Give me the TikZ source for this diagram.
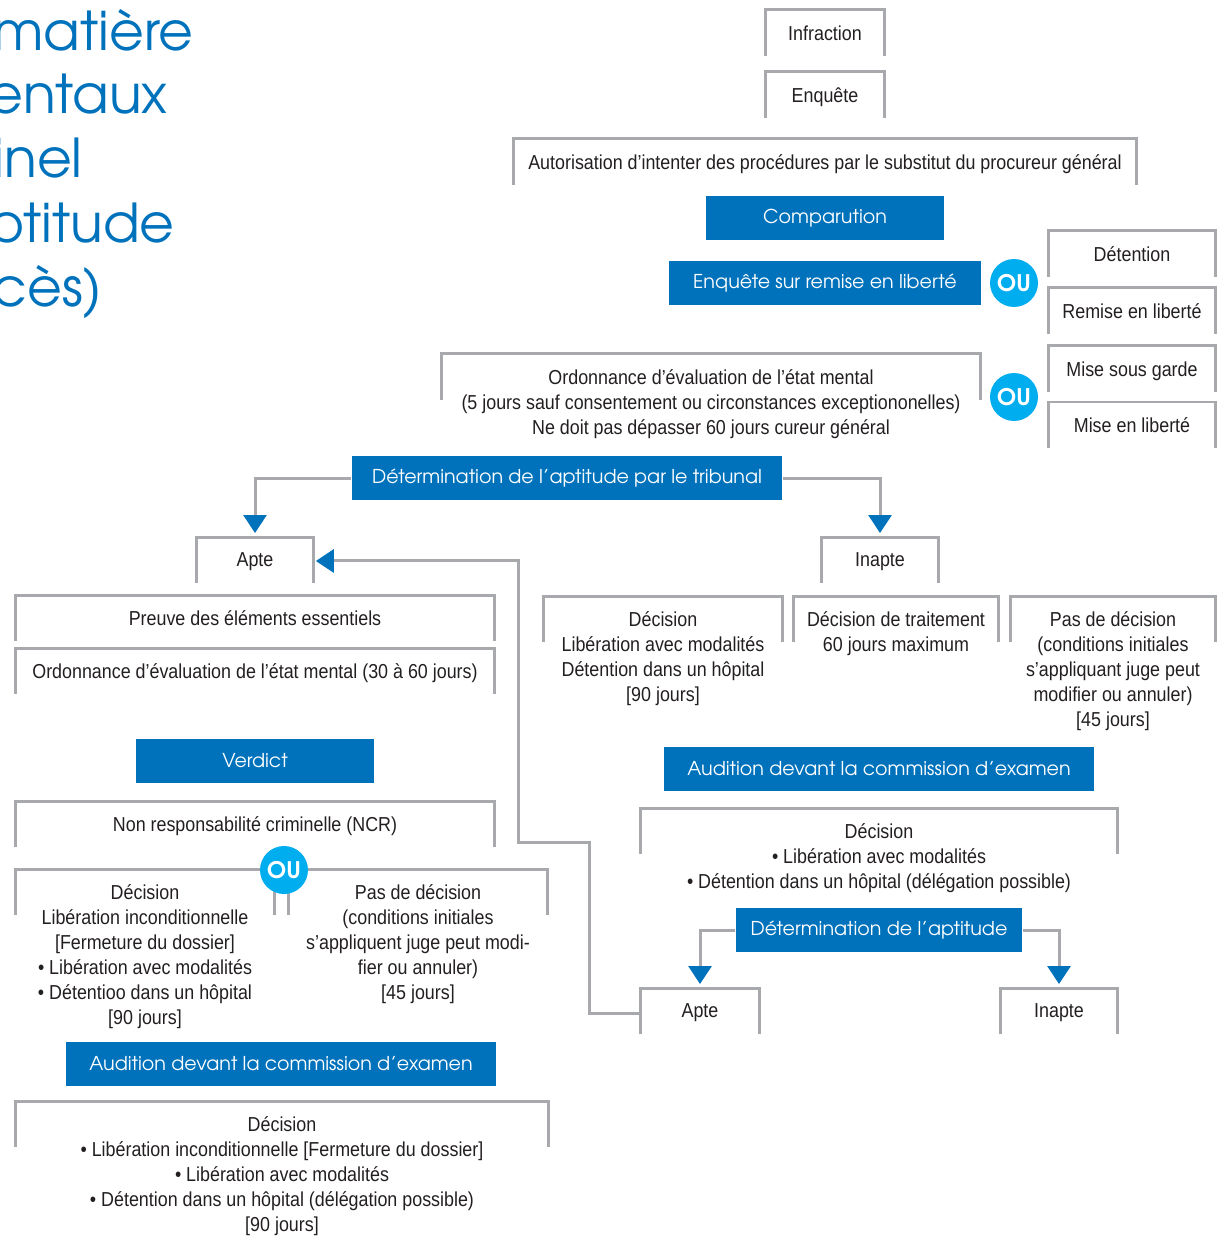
\documentclass[tikz,border=0pt]{standalone}
\usepackage{fontspec}
\setmainfont{Liberation Sans}[FakeStretch=0.885]
\newfontfamily\gothic{TeX Gyre Adventor}
\usepackage{tikz}
\usetikzlibrary{arrows.meta,positioning,calc}
\definecolor{Azure}{HTML}{0072BC}
\definecolor{Sky}{HTML}{00AEEF}
\definecolor{Steel}{HTML}{A7A9AC}
\definecolor{Ink}{HTML}{231F20}

\begin{document}
\begin{tikzpicture}[
  x=0.02cm, y=-0.02cm,
  every node/.style={font=\fontsize{11.5}{14.2}\selectfont, text=Ink},
  bracket/.style={anchor=north, minimum width=#1, inner xsep=0pt, inner ysep=0.31cm, align=center},
  banner/.style={fill=Azure, text=white, minimum width=#1, minimum height=0.88cm, inner sep=0pt, font=\gothic\fontsize{10.85}{12}\selectfont},
  orbadge/.style={circle, fill=Sky, text=white, minimum size=0.96cm, inner sep=0pt, font=\gothic\bfseries\fontsize{13}{13}\selectfont},
  headline/.style={anchor=base east, inner sep=0pt, text=Azure, font=\gothic\fontsize{30.5}{36}\selectfont},
  rim/.style={draw=Steel, line width=0.06cm},
  conn/.style={draw=Steel, line width=0.06cm, -{Triangle[length=0.36cm,width=0.46cm,color=Azure]}, shorten >=0.08cm}
]
\clip (0,0) rectangle (1220,1236);

\foreach \w/\x/\y [count=\i] in {matière/194/51, entaux/168/114, inel/83/178, otitude/175/243, cès)/103/307}
  \node[headline] (head\i) at (\x,\y) {\w};

\node[bracket=2.36cm] (infr) at (825,10) {Infraction};
\node[bracket=2.36cm] (enq) at (825,72) {Enquête};
\node[bracket=12.44cm] (auth) at (825,139) {Autorisation d’intenter des procédures par le substitut du procureur général};
\node[banner=4.76cm] (comp) at (825,218) {Comparution};
\node[banner=6.24cm] (enqlib) at (825,283) {Enquête sur remise en liberté};
\node[bracket=3.34cm] (deten) at (1132,231) {Détention};
\node[bracket=3.34cm] (remise) at (1132,288) {Remise en liberté};
\node[bracket=10.76cm] (ordo) at (711,354) {Ordonnance d’évaluation de l’état mental\\(5 jours sauf consentement ou circonstances exceptiononelles)\\Ne doit pas dépasser 60 jours cureur général};
\node[bracket=3.34cm] (garde) at (1132,346) {Mise sous garde};
\node[bracket=3.34cm] (libre) at (1132,402) {Mise en liberté};
\node[banner=8.62cm] (trib) at (567,478) {Détermination de l’aptitude par le tribunal};

\node[bracket=2.34cm] (apte) at (255,537) {Apte};
\node[bracket=2.34cm] (inapte) at (880,537) {Inapte};
\node[bracket=9.58cm] (preuve) at (255,595) {Preuve des éléments essentiels};
\node[bracket=9.56cm] (ordoj) at (255,648) {Ordonnance d’évaluation de l’état mental (30 à 60 jours)};
\node[banner=4.78cm] (verdict) at (255,761) {Verdict};
\node[bracket=9.56cm] (ncr) at (255,801) {Non responsabilité criminelle (NCR)};
\node[bracket=5.18cm] (decl) at (145,869) {Décision\\Libération inconditionnelle\\{}[Fermeture du dossier]\\• Libération avec modalités\\• Détentioo dans un hôpital\\{}[90 jours]};
\node[bracket=5.18cm] (pasl) at (418,869) {Pas de décision\\(conditions initiales\\s’appliquent juge peut modi-\\fier ou annuler)\\{}[45 jours]};
\node[banner=8.62cm] (audl) at (281,1064) {Audition devant la commission d’examen};
\node[bracket=10.64cm] (decf) at (282,1101) {Décision\\• Libération inconditionnelle [Fermeture du dossier]\\• Libération avec modalités\\• Détention dans un hôpital (délégation possible)\\{}[90 jours]};

\node[bracket=4.76cm] (decm) at (663,596) {Décision\\Libération avec modalités\\Détention dans un hôpital\\{}[90 jours]};
\node[bracket=4.08cm] (trait) at (896,596) {Décision de traitement\\60 jours maximum};
\node[bracket=4.10cm] (pasr) at (1113,596) {Pas de décision\\(conditions initiales\\s’appliquant juge peut\\modifier ou annuler)\\{}[45 jours]};
\node[banner=8.62cm] (audr) at (879,769) {Audition devant la commission d’examen};
\node[bracket=9.54cm] (decr) at (879,808) {Décision\\• Libération avec modalités\\• Détention dans un hôpital (délégation possible)};
\node[banner=5.74cm] (aptb) at (879,930) {Détermination de l’aptitude};
\node[bracket=2.36cm] (apteb) at (700,988) {Apte};
\node[bracket=2.34cm] (inapteb) at (1059,988) {Inapte};

\foreach \n in {infr,enq,auth,deten,remise,ordo,garde,libre,apte,inapte,preuve,ordoj,ncr,decl,pasl,decf,decm,trait,pasr,decr,apteb,inapteb}
  \draw[rim] ([yshift=-0.92cm]\n.north west) |- (\n.north east) -- ++(0,46);

\node[orbadge] (or1) at (1014,283) {OU};
\node[orbadge] (or2) at (1014,397) {OU};
\node[orbadge] (or3) at (284,870) {OU};

\draw[conn] (trib.west) -| (apte.north);
\draw[conn] (trib.east) -| (inapte.north);
\draw[conn] (aptb.west) -| (apteb.north);
\draw[conn] (aptb.east) -| (inapteb.north);
\draw[conn, shorten >=0.04cm] ([yshift=-0.5cm]apteb.north west) -- ++(-51,0) -- ++(0,-171) -- ++(-71,0) |- ([yshift=-0.48cm]apte.north east);
\end{tikzpicture}
\end{document}
